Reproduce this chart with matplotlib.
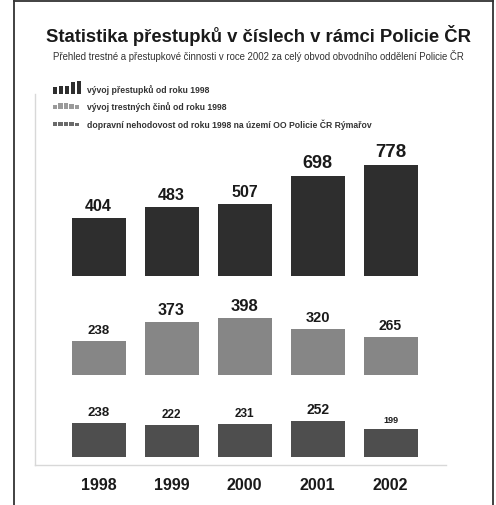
import numpy as np
import matplotlib.pyplot as plt
from matplotlib.lines import Line2D

years = ['1998', '1999', '2000', '2001', '2002']
prestupky = [404, 483, 507, 698, 778]
trestne_ciny = [238, 373, 398, 320, 265]
nehody = [238, 222, 231, 252, 199]

title = 'Statistika přestupků v číslech v rámci Policie ČR'
subtitle = 'Přehled trestné a přestupkové činnosti v roce 2002 za celý obvod obvodního oddělení Policie ČR'
legend_labels = ['vývoj přestupků od roku 1998',
                 'vývoj trestných činů od roku 1998',
                 'dopravní nehodovost od roku 1998 na území OO Policie ČR Rýmařov']

plt.rcParams['font.family'] = ['Liberation Sans', 'DejaVu Sans']

W, H = 496, 506
fig = plt.figure(figsize=(W / 100, H / 100), dpi=100)

def fx(px):
    return px / W

def fy(py):
    return 1 - py / H

# outer frame
for xs, ys in [((14, 14), (2, 506)), ((14, 493), (2, 2)), ((493, 493), (2, 506))]:
    fig.add_artist(Line2D([fx(x) for x in xs], [fy(y) for y in ys],
                          color='#333333', lw=1.3, transform=fig.transFigure))

fig.text(fx(258), fy(36), title, ha='center', va='center', fontsize=13.3, fontweight='bold', color='#1a1a1a')
fig.text(fx(258), fy(56), subtitle, ha='center', va='center', fontsize=6.9, color='#333333')

# rows: (values, colour, baseline offset, label sizes)
rows = [
    (prestupky, '#2e2e2e', 1267, [11.5, 11.5, 11.5, 13, 13.5]),
    (trestne_ciny, '#868686', 574, [9.5, 11.5, 12, 10.5, 10]),
    (nehody, '#4e4e4e', 0, [9.5, 8.5, 8.5, 10, 6.5]),
]

ax = fig.add_axes([fx(35), 40 / H, (446 - 35) / W, (466 - 95) / H])
x = np.arange(len(years))
for vals, col, base, sizes in rows:
    ax.bar(x, vals, width=0.74, bottom=base, color=col)
    for xi, v, s in zip(x, vals, sizes):
        ax.text(xi, base + v + 35, str(v), ha='center', va='bottom',
                fontsize=s, fontweight='bold', color='#1a1a1a')

ax.set_xlim(-0.87, 4.76)
ax.set_ylim(-56, 2541)
for side in ['top', 'right']:
    ax.spines[side].set_visible(False)
for side in ['left', 'bottom']:
    ax.spines[side].set_color('#d8d8d8')
    ax.spines[side].set_linewidth(1.0)
ax.set_yticks([])
ax.set_xticks(x)
ax.set_xticklabels(years, fontsize=11.5, fontweight='bold', color='#1a1a1a')
ax.tick_params(axis='x', length=0, pad=9)

# legend icons as mini bar charts
icons = [(prestupky, '#2e2e2e', (52, 82, 82, 95)),
         (trestne_ciny, '#9a9a9a', (52, 80, 104, 110)),
         (nehody, '#6a6a6a', (52, 80, 123, 127))]
text_y = [90, 107, 125]
for (vals, col, (x0, x1, y0, y1)), lab, ty in zip(icons, legend_labels, text_y):
    iax = fig.add_axes([fx(x0), fy(y1), (x1 - x0) / W, (y1 - y0) / H])
    iax.bar(x, vals, width=0.8, color=col)
    iax.set_xlim(-0.5, 4.5)
    iax.set_ylim(0, max(vals))
    iax.axis('off')
    fig.text(fx(87), fy(ty), lab, ha='left', va='center', fontsize=6.2, fontweight='bold', color='#333333')

fig.savefig('out.png', dpi=100)
